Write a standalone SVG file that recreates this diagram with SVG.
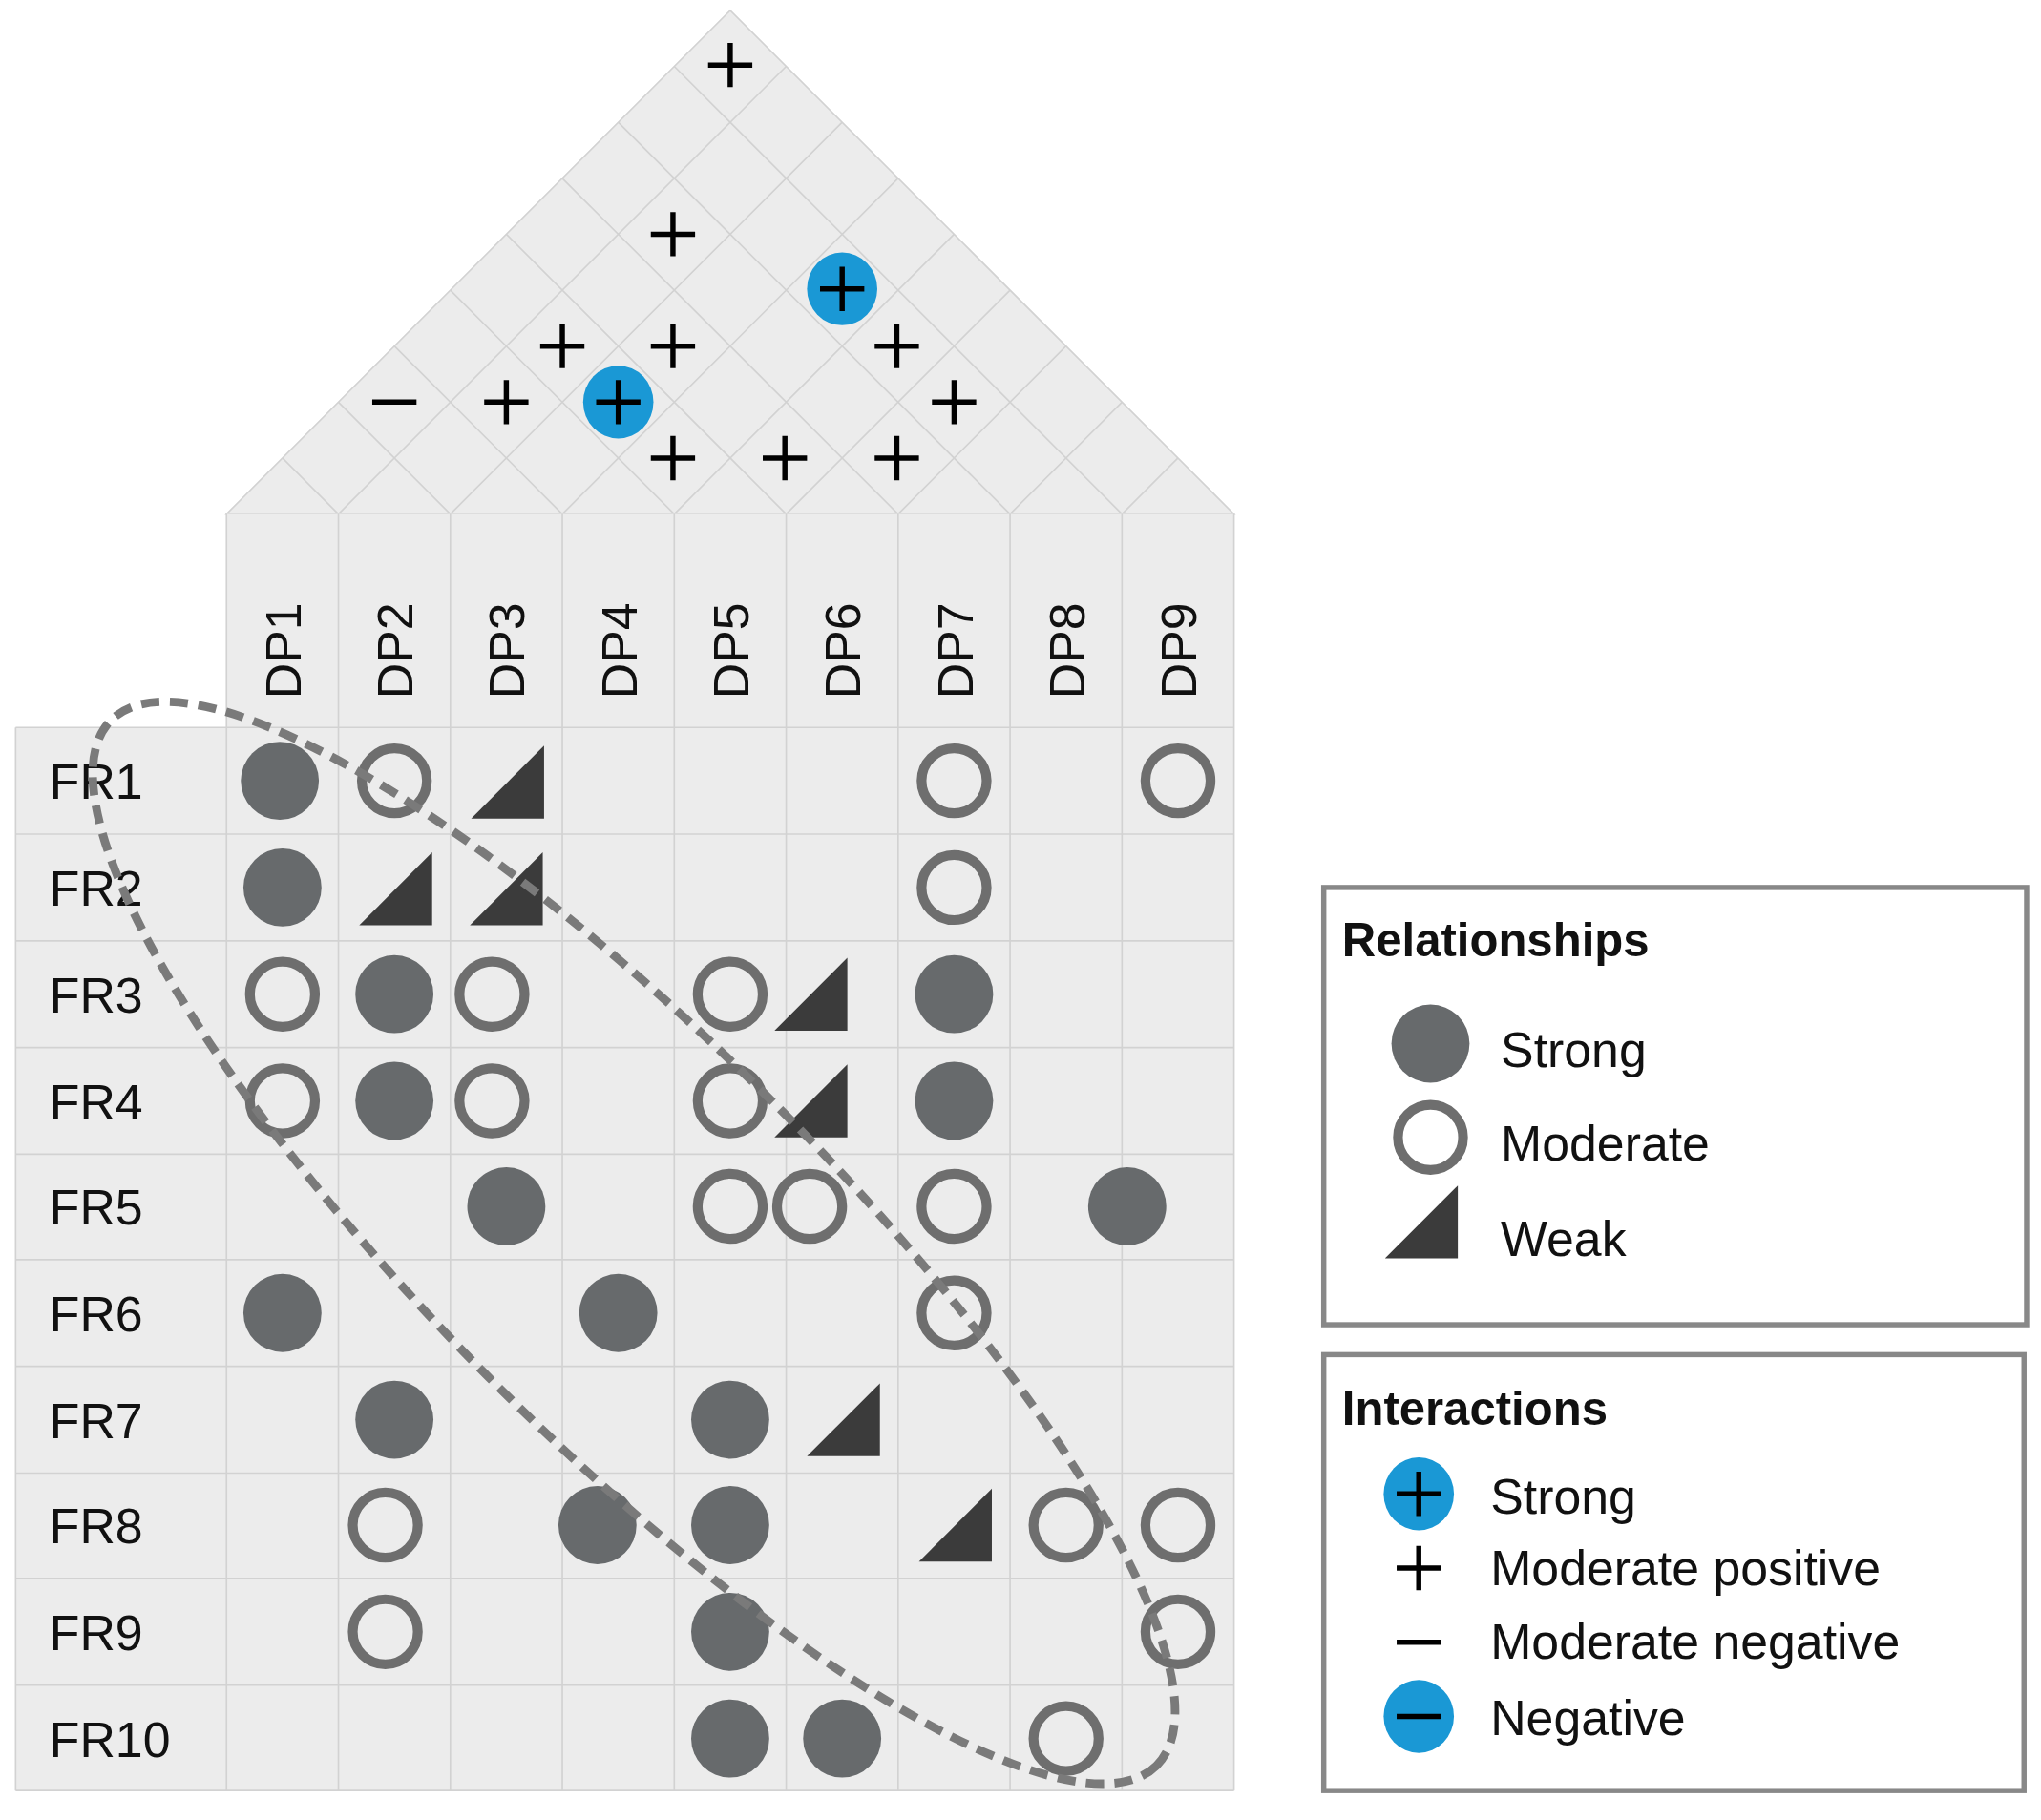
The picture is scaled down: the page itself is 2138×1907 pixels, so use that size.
<svg xmlns="http://www.w3.org/2000/svg" width="2138" height="1907" viewBox="0 0 2138 1907">
<style>
.g{stroke:#d2d2d2;stroke-width:1.2;fill:none}
.t{font-family:"Liberation Sans",Arial,sans-serif;font-size:38px;fill:#111}
.b{font-family:"Liberation Sans",Arial,sans-serif;font-size:36px;font-weight:bold;fill:#111}
.s{fill:#676a6c}
.m{fill:none;stroke:#6e6e6e;stroke-width:7.5}
.w{fill:#3b3b3b}
.p{stroke:#000;stroke-width:4;fill:none}
.bc{fill:#1a98d5}
.box{fill:#fff;stroke:#888;stroke-width:4}
</style>
<defs>
<g id="S"><circle r="30" class="s"/></g>
<g id="M"><circle r="25" class="m"/></g>
<g id="W"><path d="M-28,28H28V-28Z" class="w"/></g>
<g id="P"><path d="M-17,0H17M0,-17V17" class="p"/></g>
<g id="N"><path d="M-17,0H17" class="p"/></g>
<g id="BP"><ellipse rx="27" ry="28" class="bc"/><path d="M-17,0H17M0,-17V17" class="p"/></g>
<g id="BN"><ellipse rx="27" ry="28" class="bc"/><path d="M-17,0H17" class="p"/></g>
</defs>
<rect width="2138" height="1907" fill="#fff"/>
<g transform="scale(1.3635)">
<g id="roof">
<path d="M174,395L561,8L948,395Z" fill="#ececec" stroke="#d2d2d2" stroke-width="1.2"/>
<path class="g" d="M260,395L604,51M346,395L647,94M432,395L690,137M518,395L733,180M604,395L776,223M690,395L819,266M776,395L862,309M862,395L905,352
M862,395L518,51M776,395L475,94M690,395L432,137M604,395L389,180M518,395L346,223M432,395L303,266M346,395L260,309M260,395L217,352"/>
<use href="#P" x="561" y="50"/><use href="#P" x="517" y="180"/><use href="#BP" x="647" y="222"/>
<use href="#P" x="432" y="266"/><use href="#P" x="517" y="266"/><use href="#P" x="689" y="266"/>
<use href="#N" x="303" y="309"/><use href="#P" x="389" y="309"/><use href="#BP" x="475" y="309"/><use href="#P" x="733" y="309"/>
<use href="#P" x="517" y="352"/><use href="#P" x="603" y="352"/><use href="#P" x="689" y="352"/>
</g>
<g id="matrix">
<rect x="174" y="395" width="774" height="981" fill="#ececec"/>
<rect x="12" y="559" width="162" height="817" fill="#ececec"/>
<path class="g" d="M174,395V1376M260,395V1376M346,395V1376M432,395V1376M518,395V1376M604,395V1376M690,395V1376M776,395V1376M862,395V1376M948,395V1376
M12,559H948M12,641H948M12,723H948M12,805H948M12,887H948M12,968H948M12,1050H948M12,1132H948M12,1213H948M12,1295H948M12,1376H948M12,559V1376"/>
<g class="t">
<text transform="translate(231,537) rotate(-90)">DP1</text><text transform="translate(317,537) rotate(-90)">DP2</text>
<text transform="translate(403,537) rotate(-90)">DP3</text><text transform="translate(489,537) rotate(-90)">DP4</text>
<text transform="translate(575,537) rotate(-90)">DP5</text><text transform="translate(661,537) rotate(-90)">DP6</text>
<text transform="translate(747,537) rotate(-90)">DP7</text><text transform="translate(833,537) rotate(-90)">DP8</text>
<text transform="translate(919,537) rotate(-90)">DP9</text>
<text x="38" y="614">FR1</text><text x="38" y="696">FR2</text><text x="38" y="778">FR3</text><text x="38" y="860">FR4</text>
<text x="38" y="941">FR5</text><text x="38" y="1023">FR6</text><text x="38" y="1105">FR7</text><text x="38" y="1186">FR8</text>
<text x="38" y="1268">FR9</text><text x="38" y="1350">FR10</text>
</g>
<use href="#S" x="215" y="600"/><use href="#M" x="303" y="600"/><use href="#W" x="390" y="601"/><use href="#M" x="733" y="600"/><use href="#M" x="905" y="600"/>
<use href="#S" x="217" y="682"/><use href="#W" x="304" y="683"/><use href="#W" x="389" y="683"/><use href="#M" x="733" y="682"/>
<use href="#M" x="217" y="764"/><use href="#S" x="303" y="764"/><use href="#M" x="378" y="764"/><use href="#M" x="561" y="764"/><use href="#W" x="623" y="764"/><use href="#S" x="733" y="764"/>
<use href="#M" x="217" y="846"/><use href="#S" x="303" y="846"/><use href="#M" x="378" y="846"/><use href="#M" x="561" y="846"/><use href="#W" x="623" y="846"/><use href="#S" x="733" y="846"/>
<use href="#S" x="389" y="927"/><use href="#M" x="561" y="927"/><use href="#M" x="622" y="927"/><use href="#M" x="733" y="927"/><use href="#S" x="866" y="927"/>
<use href="#S" x="217" y="1009"/><use href="#S" x="475" y="1009"/><use href="#M" x="733" y="1009"/>
<use href="#S" x="303" y="1091"/><use href="#S" x="561" y="1091"/><use href="#W" x="648" y="1091"/>
<use href="#M" x="296" y="1172"/><use href="#S" x="459" y="1172"/><use href="#S" x="561" y="1172"/><use href="#W" x="734" y="1172"/><use href="#M" x="819" y="1172"/><use href="#M" x="905" y="1172"/>
<use href="#M" x="296" y="1254"/><use href="#S" x="561" y="1254"/><use href="#M" x="905" y="1254"/>
<use href="#S" x="561" y="1336"/><use href="#S" x="647" y="1336"/><use href="#M" x="819" y="1336"/>
</g>
<g id="connectors">
<ellipse cx="487" cy="955" rx="568" ry="152" transform="rotate(45 487 955)" fill="none" stroke="#7a7a7a" stroke-width="6.5" stroke-dasharray="14 8"/>
</g>
<g id="legend-relationships">
<rect x="1017" y="682" width="540" height="336" class="box"/>
<text x="1031" y="735" class="b">Relationships</text>
<use href="#S" x="1099" y="802"/><use href="#M" x="1099" y="874"/><use href="#W" x="1092" y="939"/>
<g class="t"><text x="1153" y="820">Strong</text><text x="1153" y="892">Moderate</text><text x="1153" y="965">Weak</text></g>
</g>
<g id="legend-interactions">
<rect x="1017" y="1041" width="538" height="335" class="box"/>
<text x="1031" y="1095" class="b">Interactions</text>
<use href="#BP" x="1090" y="1148"/><use href="#P" x="1090" y="1205"/><use href="#N" x="1090" y="1262"/><use href="#BN" x="1090" y="1319"/>
<g class="t"><text x="1145" y="1163">Strong</text><text x="1145" y="1218">Moderate positive</text><text x="1145" y="1275">Moderate negative</text><text x="1145" y="1333">Negative</text></g>
</g>
</g>
</svg>
